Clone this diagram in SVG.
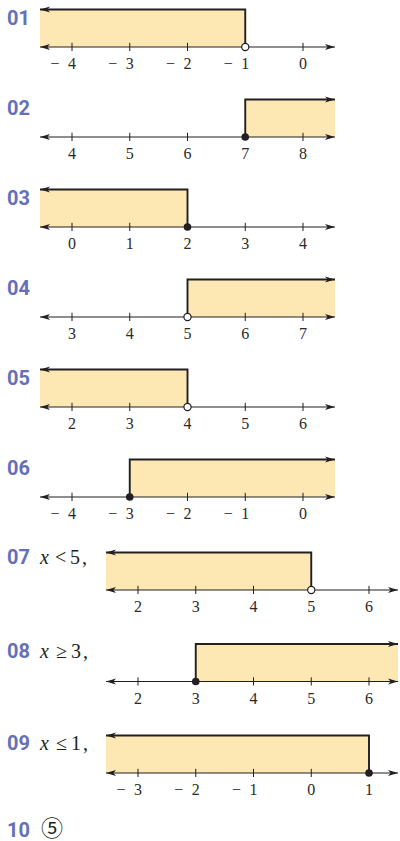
<svg xmlns="http://www.w3.org/2000/svg" width="400" height="841" viewBox="0 0 400 841">
<style>
.bg{fill:#ffffff}
.fill{fill:#fde8b3;stroke:none}
.axis{stroke:#231f20;stroke-width:1.2;fill:none}
.tick{stroke:#231f20;stroke-width:1}
.bound{stroke:#231f20;stroke-width:1.9;fill:none;stroke-linejoin:miter}
.num{font-family:"Liberation Serif","DejaVu Serif",serif;font-size:16px;fill:#2a2a2a}
.no{font-family:Roboto,"Liberation Sans",sans-serif;font-weight:bold;font-size:20px;fill:#6670b8}
.ineq{font-family:"Liberation Serif","DejaVu Serif",serif;font-size:20px;fill:#231f20}
.it{font-style:italic}
.open{fill:#ffffff;stroke:#231f20;stroke-width:1.2}
.closed{fill:#231f20;stroke:none}
.circ{font-family:"Noto Sans CJK KR","Noto Sans CJK JP","DejaVu Sans",sans-serif;font-size:22px;fill:#231f20}
</style>
<defs>
<marker id="ah" viewBox="0 0 10 8" refX="10" refY="4" markerWidth="10" markerHeight="8" orient="auto-start-reverse" markerUnits="userSpaceOnUse">
<path d="M0,0.9 L10,4 L0,7.1 L2.6,4 Z" fill="#231f20"/>
</marker>
</defs>
<rect class="bg" x="0" y="0" width="400" height="841"/>

<!-- 01 -->
<g id="p01">
<text class="no" x="7" y="25">01</text>
<rect class="fill" x="40" y="9.5" width="205.25" height="37.5"/>
<path class="bound" d="M245.25,47 V9.5 H40" marker-end="url(#ah)"/>
<line class="axis" x1="40" y1="47" x2="335" y2="47" marker-start="url(#ah)" marker-end="url(#ah)"/>
<g class="tick"><line x1="72" y1="42.8" x2="72" y2="51"/><line x1="129.75" y1="42.8" x2="129.75" y2="51"/><line x1="187.5" y1="42.8" x2="187.5" y2="51"/><line x1="303" y1="42.8" x2="303" y2="51"/></g>
<circle class="open" cx="245.25" cy="47" r="3.6"/>
<g class="num"><text x="50.5" y="69">−<tspan x="68">4</tspan></text><text x="108.25" y="69">−<tspan x="125.75">3</tspan></text><text x="166" y="69">−<tspan x="183.5">2</tspan></text><text x="223.75" y="69">−<tspan x="241.25">1</tspan></text><text x="303" y="69" text-anchor="middle">0</text></g>
</g>

<!-- 02 -->
<g id="p02">
<text class="no" x="7" y="115">02</text>
<rect class="fill" x="245.25" y="99.5" width="89.75" height="37.5"/>
<path class="bound" d="M245.25,137 V99.5 H335" marker-end="url(#ah)"/>
<line class="axis" x1="40" y1="137" x2="335" y2="137" marker-start="url(#ah)" marker-end="url(#ah)"/>
<g class="tick"><line x1="72" y1="132.8" x2="72" y2="141"/><line x1="129.75" y1="132.8" x2="129.75" y2="141"/><line x1="187.5" y1="132.8" x2="187.5" y2="141"/><line x1="303" y1="132.8" x2="303" y2="141"/></g>
<circle class="closed" cx="245.25" cy="137" r="3.8"/>
<g class="num" text-anchor="middle"><text x="72" y="159">4</text><text x="129.75" y="159">5</text><text x="187.5" y="159">6</text><text x="245.25" y="159">7</text><text x="303" y="159">8</text></g>
</g>

<!-- 03 -->
<g id="p03">
<text class="no" x="7" y="205">03</text>
<rect class="fill" x="40" y="189.5" width="147.5" height="37.5"/>
<path class="bound" d="M187.5,227 V189.5 H40" marker-end="url(#ah)"/>
<line class="axis" x1="40" y1="227" x2="335" y2="227" marker-start="url(#ah)" marker-end="url(#ah)"/>
<g class="tick"><line x1="72" y1="222.8" x2="72" y2="231"/><line x1="129.75" y1="222.8" x2="129.75" y2="231"/><line x1="245.25" y1="222.8" x2="245.25" y2="231"/><line x1="303" y1="222.8" x2="303" y2="231"/></g>
<circle class="closed" cx="187.5" cy="227" r="3.8"/>
<g class="num" text-anchor="middle"><text x="72" y="249">0</text><text x="129.75" y="249">1</text><text x="187.5" y="249">2</text><text x="245.25" y="249">3</text><text x="303" y="249">4</text></g>
</g>

<!-- 04 -->
<g id="p04">
<text class="no" x="7" y="295">04</text>
<rect class="fill" x="187.5" y="279.5" width="147.5" height="37.5"/>
<path class="bound" d="M187.5,317 V279.5 H335" marker-end="url(#ah)"/>
<line class="axis" x1="40" y1="317" x2="335" y2="317" marker-start="url(#ah)" marker-end="url(#ah)"/>
<g class="tick"><line x1="72" y1="312.8" x2="72" y2="321"/><line x1="129.75" y1="312.8" x2="129.75" y2="321"/><line x1="245.25" y1="312.8" x2="245.25" y2="321"/><line x1="303" y1="312.8" x2="303" y2="321"/></g>
<circle class="open" cx="187.5" cy="317" r="3.6"/>
<g class="num" text-anchor="middle"><text x="72" y="339">3</text><text x="129.75" y="339">4</text><text x="187.5" y="339">5</text><text x="245.25" y="339">6</text><text x="303" y="339">7</text></g>
</g>

<!-- 05 -->
<g id="p05">
<text class="no" x="7" y="385">05</text>
<rect class="fill" x="40" y="369.5" width="147.5" height="37.5"/>
<path class="bound" d="M187.5,407 V369.5 H40" marker-end="url(#ah)"/>
<line class="axis" x1="40" y1="407" x2="335" y2="407" marker-start="url(#ah)" marker-end="url(#ah)"/>
<g class="tick"><line x1="72" y1="402.8" x2="72" y2="411"/><line x1="129.75" y1="402.8" x2="129.75" y2="411"/><line x1="245.25" y1="402.8" x2="245.25" y2="411"/><line x1="303" y1="402.8" x2="303" y2="411"/></g>
<circle class="open" cx="187.5" cy="407" r="3.6"/>
<g class="num" text-anchor="middle"><text x="72" y="429">2</text><text x="129.75" y="429">3</text><text x="187.5" y="429">4</text><text x="245.25" y="429">5</text><text x="303" y="429">6</text></g>
</g>

<!-- 06 -->
<g id="p06">
<text class="no" x="7" y="475">06</text>
<rect class="fill" x="129.75" y="459.5" width="205.25" height="37.5"/>
<path class="bound" d="M129.75,497 V459.5 H335" marker-end="url(#ah)"/>
<line class="axis" x1="40" y1="497" x2="335" y2="497" marker-start="url(#ah)" marker-end="url(#ah)"/>
<g class="tick"><line x1="72" y1="492.8" x2="72" y2="501"/><line x1="187.5" y1="492.8" x2="187.5" y2="501"/><line x1="245.25" y1="492.8" x2="245.25" y2="501"/><line x1="303" y1="492.8" x2="303" y2="501"/></g>
<circle class="closed" cx="129.75" cy="497" r="3.8"/>
<g class="num"><text x="50.5" y="519">−<tspan x="68">4</tspan></text><text x="108.25" y="519">−<tspan x="125.75">3</tspan></text><text x="166" y="519">−<tspan x="183.5">2</tspan></text><text x="223.75" y="519">−<tspan x="241.25">1</tspan></text><text x="303" y="519" text-anchor="middle">0</text></g>
</g>

<!-- 07 -->
<g id="p07">
<text class="no" x="7" y="564">07</text>
<text class="ineq" y="564"><tspan class="it" x="40">x</tspan><tspan x="55">&lt;</tspan><tspan x="70">5</tspan><tspan x="82">,</tspan></text>
<rect class="fill" x="106" y="552.5" width="205.25" height="37.5"/>
<path class="bound" d="M311.25,590 V552.5 H106" marker-end="url(#ah)"/>
<line class="axis" x1="106" y1="590" x2="398" y2="590" marker-start="url(#ah)" marker-end="url(#ah)"/>
<g class="tick"><line x1="138" y1="585.8" x2="138" y2="594"/><line x1="195.75" y1="585.8" x2="195.75" y2="594"/><line x1="253.5" y1="585.8" x2="253.5" y2="594"/><line x1="369" y1="585.8" x2="369" y2="594"/></g>
<circle class="open" cx="311.25" cy="590" r="3.6"/>
<g class="num" text-anchor="middle"><text x="138" y="612">2</text><text x="195.75" y="612">3</text><text x="253.5" y="612">4</text><text x="311.25" y="612">5</text><text x="369" y="612">6</text></g>
</g>

<!-- 08 -->
<g id="p08">
<text class="no" x="7" y="658">08</text>
<text class="ineq" y="658"><tspan class="it" x="40">x</tspan><tspan x="56">≥</tspan><tspan x="71">3</tspan><tspan x="83">,</tspan></text>
<rect class="fill" x="195.75" y="644" width="202.25" height="37.5"/>
<path class="bound" d="M195.75,681.5 V644 H398" marker-end="url(#ah)"/>
<line class="axis" x1="106" y1="681.5" x2="398" y2="681.5" marker-start="url(#ah)" marker-end="url(#ah)"/>
<g class="tick"><line x1="138" y1="677.3" x2="138" y2="685.5"/><line x1="253.5" y1="677.3" x2="253.5" y2="685.5"/><line x1="311.25" y1="677.3" x2="311.25" y2="685.5"/><line x1="369" y1="677.3" x2="369" y2="685.5"/></g>
<circle class="closed" cx="195.75" cy="681.5" r="3.8"/>
<g class="num" text-anchor="middle"><text x="138" y="703.5">2</text><text x="195.75" y="703.5">3</text><text x="253.5" y="703.5">4</text><text x="311.25" y="703.5">5</text><text x="369" y="703.5">6</text></g>
</g>

<!-- 09 -->
<g id="p09">
<text class="no" x="7" y="750">09</text>
<text class="ineq" y="750"><tspan class="it" x="40">x</tspan><tspan x="56">≤</tspan><tspan x="71">1</tspan><tspan x="83">,</tspan></text>
<rect class="fill" x="106" y="735.5" width="263" height="37.5"/>
<path class="bound" d="M369,773 V735.5 H106" marker-end="url(#ah)"/>
<line class="axis" x1="106" y1="773" x2="398" y2="773" marker-start="url(#ah)" marker-end="url(#ah)"/>
<g class="tick"><line x1="138" y1="768.8" x2="138" y2="777"/><line x1="195.75" y1="768.8" x2="195.75" y2="777"/><line x1="253.5" y1="768.8" x2="253.5" y2="777"/><line x1="311.25" y1="768.8" x2="311.25" y2="777"/></g>
<circle class="closed" cx="369" cy="773" r="3.8"/>
<g class="num"><text x="116.5" y="795">−<tspan x="134">3</tspan></text><text x="174.25" y="795">−<tspan x="191.75">2</tspan></text><text x="232" y="795">−<tspan x="249.5">1</tspan></text><text x="311.25" y="795" text-anchor="middle">0</text><text x="369" y="795" text-anchor="middle">1</text></g>
</g>

<!-- 10 -->
<g id="p10">
<text class="no" x="7" y="837">10</text>
<text class="circ" x="52" y="835.5" text-anchor="middle">⑤</text>
</g>
</svg>
